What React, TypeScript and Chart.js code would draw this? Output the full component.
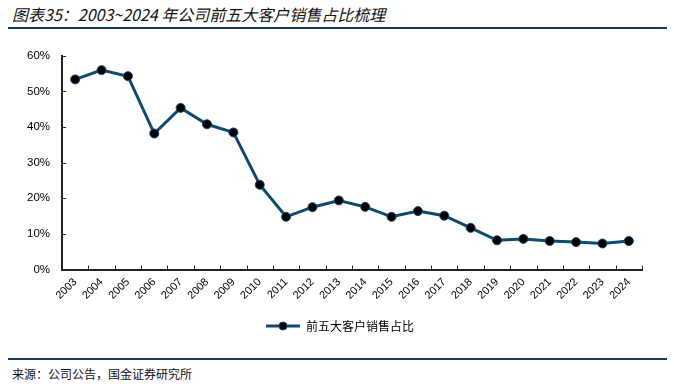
import React, { useEffect, useRef } from "react";
import { Chart, registerables } from "chart.js";

Chart.register(...registerables);

const years = ["2003","2004","2005","2006","2007","2008","2009","2010","2011","2012","2013","2014","2015","2016","2017","2018","2019","2020","2021","2022","2023","2024"];
const top5Share = [53.4, 56.0, 54.3, 38.2, 45.4, 40.8, 38.5, 23.8, 14.8, 17.5, 19.4, 17.6, 14.8, 16.4, 15.1, 11.7, 8.2, 8.6, 8.0, 7.7, 7.3, 8.0];
const seriesName = "前五大客户销售占比";
const yMax = 60;
const yStep = 10;

const LINE = "#0d4a6c";
const AXIS = "#222222";

const innerTicks = {
  id: "innerTicks",
  afterDraw(chart: any) {
    const { ctx, scales } = chart;
    const x = scales.x;
    const y = scales.y;
    ctx.save();
    ctx.strokeStyle = AXIS;
    ctx.lineWidth = 1;
    const half = (x.getPixelForValue(1) - x.getPixelForValue(0)) / 2;
    const n = x.getLabels().length;
    ctx.beginPath();
    for (let i = 1; i <= n; i++) {
      const px = Math.round(x.getPixelForValue(i) - half) + 0.5;
      ctx.moveTo(px, y.bottom);
      ctx.lineTo(px, y.bottom - 4);
    }
    y.ticks.forEach((t: any) => {
      const py = Math.round(y.getPixelForValue(t.value)) + 0.5;
      ctx.moveTo(x.left, py);
      ctx.lineTo(x.left + 4, py);
    });
    ctx.stroke();
    ctx.restore();
  },
};

const centerLegend = {
  id: "centerLegend",
  afterLayout(chart: any) {
    const lg = chart.legend;
    if (lg) {
      lg.left += 19;
      lg.right += 19;
    }
  },
};

function legendIcon(): HTMLCanvasElement {
  const c = document.createElement("canvas");
  c.width = 34;
  c.height = 12;
  const g = c.getContext("2d")!;
  g.strokeStyle = LINE;
  g.lineWidth = 3;
  g.beginPath();
  g.moveTo(0, 6);
  g.lineTo(34, 6);
  g.stroke();
  g.beginPath();
  g.arc(17, 6, 4, 0, Math.PI * 2);
  g.fillStyle = "#000";
  g.fill();
  g.lineWidth = 1;
  g.strokeStyle = LINE;
  g.stroke();
  return c;
}

export default function App() {
  const ref = useRef<HTMLCanvasElement>(null);
  useEffect(() => {
    const icon = legendIcon();
    const chart = new Chart(ref.current!, {
      type: "line",
      data: {
        labels: years,
        datasets: [
          {
            label: seriesName,
            data: top5Share,
            borderColor: LINE,
            borderWidth: 3,
            pointBackgroundColor: "#000",
            pointBorderColor: LINE,
            pointBorderWidth: 1,
            pointRadius: 4.5,
            tension: 0,
          },
        ],
      },
      options: {
        animation: false,
        responsive: false,
        maintainAspectRatio: false,
        layout: { padding: { top: 10, right: 32, bottom: 0, left: 0 } },
        plugins: {
          tooltip: { enabled: false },
          legend: {
            position: "bottom",
            labels: {
              usePointStyle: true,
              pointStyleWidth: 34,
              padding: 10,
              color: "#000",
              font: { family: "'Noto Sans CJK SC', sans-serif", size: 12 },
              generateLabels: () => [
                {
                  text: seriesName,
                  pointStyle: icon,
                  fillStyle: LINE,
                  strokeStyle: LINE,
                  lineWidth: 0,
                  datasetIndex: 0,
                  hidden: false,
                } as any,
              ],
            },
          },
        },
        scales: {
          x: {
            type: "category",
            offset: true,
            grid: { display: false, drawTicks: false },
            border: { display: true, color: AXIS, width: 2 },
            ticks: {
              minRotation: 45,
              maxRotation: 45,
              autoSkip: false,
              padding: 6,
              color: "#000",
              font: { family: "'Liberation Sans', Arial, sans-serif", size: 11 },
            },
            afterFit: (s: any) => {
              s.height = 40.5;
            },
          },
          y: {
            min: 0,
            max: yMax,
            grid: { display: false, drawTicks: false },
            border: { display: true, color: AXIS, width: 2 },
            ticks: {
              stepSize: yStep,
              padding: 12,
              color: "#000",
              font: { family: "'Liberation Sans', Arial, sans-serif", size: 11.5 },
              callback: (v: any) => v + "%",
            },
            afterFit: (s: any) => {
              s.width = 62;
            },
          },
        },
      },
      plugins: [innerTicks, centerLegend],
    });
    return () => chart.destroy();
  }, []);

  return (
    <div style={{ position: "fixed", left: 0, top: 0, width: 674, height: 384, background: "#fff", overflow: "hidden" }}>
      <div
        style={{
          position: "absolute",
          left: 12,
          top: 5,
          fontFamily: "'Noto Sans CJK SC', sans-serif",
          fontStyle: "italic",
          fontSize: 16,
          lineHeight: "18px",
          color: "#111",
          whiteSpace: "nowrap",
        }}
      >
        图表35：2003~2024 年公司前五大客户销售占比梳理
      </div>
      <div style={{ position: "absolute", left: 8, top: 26.5, width: 659, height: 2, background: "#17385a" }} />
      <canvas ref={ref} width={674} height={305} style={{ position: "absolute", left: 0, top: 37, width: 674, height: 305 }} />
      <div style={{ position: "absolute", left: 8, top: 358, width: 659, height: 2, background: "#17385a" }} />
      <div
        style={{
          position: "absolute",
          left: 12,
          top: 366,
          fontFamily: "'Noto Sans CJK SC', sans-serif",
          fontSize: 12,
          lineHeight: "16px",
          color: "#111",
          whiteSpace: "nowrap",
        }}
      >
        来源：公司公告，国金证券研究所
      </div>
    </div>
  );
}
